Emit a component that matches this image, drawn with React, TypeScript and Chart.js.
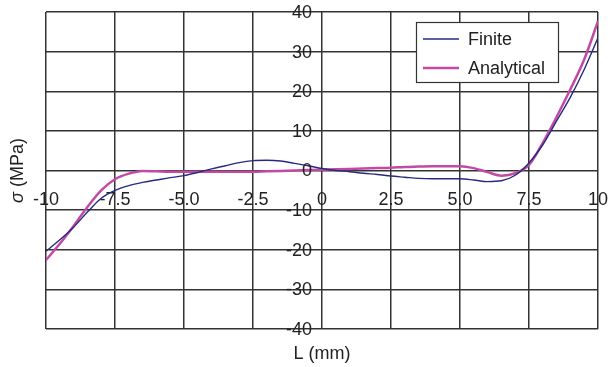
import React, { useEffect, useRef } from "react";
import { Chart, registerables } from "chart.js";

Chart.register(...registerables);

const xValues = [-10, -9.5, -9, -8.5, -8, -7.5, -7, -6.5, -6, -5.5, -5, -4.5, -4, -3.5, -3, -2.5, -2, -1.5, -1, -0.5, 0, 0.5, 1, 1.5, 2, 2.5, 3, 3.5, 4, 4.5, 5, 5.5, 6, 6.5, 7, 7.5, 8, 8.5, 9, 9.5, 10];

const finiteValues = [-20.4, -17.5, -14.3, -10.5, -7.0, -5.0, -3.8, -3.0, -2.4, -1.8, -1.3, -0.5, 0.4, 1.2, 2.0, 2.5, 2.6, 2.4, 1.8, 1.2, 0.5, 0.0, -0.3, -0.7, -1.0, -1.4, -1.7, -2.0, -2.1, -2.1, -2.1, -2.4, -2.8, -2.6, -1.2, 1.9, 6.5, 12.5, 18.5, 25.5, 33.5];

const analyticalValues = [-22.6, -18.5, -14.0, -9.2, -5.0, -2.2, -0.8, -0.1, -0.2, -0.3, -0.3, -0.3, -0.3, -0.3, -0.3, -0.3, -0.2, -0.1, 0.0, 0.1, 0.2, 0.3, 0.4, 0.5, 0.6, 0.7, 0.9, 1.0, 1.1, 1.1, 1.1, 0.6, -0.4, -1.3, -0.7, 1.4, 7.0, 13.5, 20.5, 28.0, 37.7];

const xTickValues = [-10, -7.5, -5, -2.5, 0, 2.5, 5, 7.5, 10];
const xTickLabels = ["-10", "-7.5", "-5.0", "-2.5", "0", "2.5", "5.0", "7.5", "10"];
const yTickValues = [-40, -30, -20, -10, 0, 10, 20, 30, 40];
const yTickLabels = ["-40", "-30", "-20", "-10", "0", "10", "20", "30", "40"];

const seriesNames = ["Finite", "Analytical"];
const xTitle = "L (mm)";
const yTitleSymbol = "σ";
const yTitleRest = " (MPa)";

const FONT = "'Liberation Sans', Arial, sans-serif";

const overlayPlugin = {
  id: "overlay",
  afterDraw(chart: any) {
    const ctx = chart.ctx;
    const area = chart.chartArea;
    const xs = chart.scales.x;
    const ys = chart.scales.y;

    // y tick labels, right-aligned left of the x = 0 line
    ctx.save();
    ctx.fillStyle = "#222";
    ctx.font = `18px ${FONT}`;
    ctx.textAlign = "right";
    ctx.textBaseline = "middle";
    const axisX = xs.getPixelForValue(0);
    yTickValues.forEach((v, i) => {
      ctx.fillText(yTickLabels[i], axisX - 10, ys.getPixelForValue(v) + 1);
    });
    ctx.restore();

    // axis titles
    ctx.save();
    ctx.fillStyle = "#222";
    ctx.font = `18px ${FONT}`;
    ctx.textAlign = "center";
    ctx.textBaseline = "middle";
    ctx.fillText(xTitle, (area.left + area.right) / 2, 354);

    ctx.translate(18, (area.top + area.bottom) / 2);
    ctx.rotate(-Math.PI / 2);
    ctx.font = `italic 18px ${FONT}`;
    const w1 = ctx.measureText(yTitleSymbol).width;
    ctx.font = `18px ${FONT}`;
    const w2 = ctx.measureText(yTitleRest).width;
    const start = -(w1 + w2) / 2;
    ctx.textAlign = "left";
    ctx.font = `italic 18px ${FONT}`;
    ctx.fillText(yTitleSymbol, start, 0);
    ctx.font = `18px ${FONT}`;
    ctx.fillText(yTitleRest, start + w1, 0);
    ctx.restore();

    // legend
    ctx.save();
    const bx = 416, by = 22, bw = 142, bh = 60;
    ctx.fillStyle = "#ffffff";
    ctx.fillRect(bx, by, bw, bh);
    ctx.strokeStyle = "#333";
    ctx.lineWidth = 1.2;
    ctx.strokeRect(bx + 0.5, by + 0.5, bw, bh);
    chart.data.datasets.forEach((ds: any, i: number) => {
      const yy = 39 + i * 29;
      ctx.strokeStyle = ds.borderColor;
      ctx.lineWidth = ds.borderWidth;
      ctx.beginPath();
      ctx.moveTo(423, yy);
      ctx.lineTo(459, yy);
      ctx.stroke();
      ctx.fillStyle = "#222";
      ctx.font = `18px ${FONT}`;
      ctx.textAlign = "left";
      ctx.textBaseline = "middle";
      ctx.fillText(ds.label, 468, yy + 1);
    });
    ctx.restore();
  },
};

export default function App() {
  const canvasRef = useRef<HTMLCanvasElement | null>(null);

  useEffect(() => {
    document.body.style.margin = "0";
    const canvas = canvasRef.current;
    if (!canvas) return;
    const chart = new Chart(canvas, {
      type: "line",
      data: {
        datasets: [
          {
            label: seriesNames[0],
            data: xValues.map((x, i) => ({ x, y: finiteValues[i] })),
            borderColor: "#262a80",
            borderWidth: 1.4,
            pointRadius: 0,
            cubicInterpolationMode: "monotone",
            fill: false,
          },
          {
            label: seriesNames[1],
            data: xValues.map((x, i) => ({ x, y: analyticalValues[i] })),
            borderColor: "#c24aa4",
            borderWidth: 2.5,
            pointRadius: 0,
            cubicInterpolationMode: "monotone",
            fill: false,
          },
        ],
      },
      options: {
        responsive: false,
        animation: false,
        devicePixelRatio: 1,
        layout: { padding: { left: 46, right: 9, top: 12, bottom: 38 } },
        plugins: {
          legend: { display: false },
          tooltip: { enabled: false },
        },
        scales: {
          x: {
            type: "linear",
            position: { y: 0 } as any,
            min: -10,
            max: 10,
            border: { display: false },
            grid: { color: "#333", lineWidth: 1.5, drawTicks: true, tickLength: 19, tickColor: "rgba(0,0,0,0)" },
            afterBuildTicks: (scale: any) => {
              scale.ticks = xTickValues.map((v) => ({ value: v }));
            },
            ticks: {
              autoSkip: false,
              maxRotation: 0,
              padding: 0,
              color: "#222",
              font: { family: FONT, size: 18 },
              callback: (v: any) => {
                const idx = xTickValues.indexOf(Number(v));
                return idx >= 0 ? xTickLabels[idx] : "";
              },
            },
          },
          y: {
            type: "linear",
            position: { x: 0 } as any,
            min: -40,
            max: 40,
            border: { display: false },
            grid: { color: "#333", lineWidth: 1.5, drawTicks: false },
            afterBuildTicks: (scale: any) => {
              scale.ticks = yTickValues.map((v) => ({ value: v }));
            },
            ticks: {
              display: false,
              autoSkip: false,
              padding: 0,
              font: { family: FONT, size: 18 },
            },
          },
        },
      },
      plugins: [overlayPlugin],
    });
    return () => chart.destroy();
  }, []);

  return (
    <div style={{ position: "absolute", left: 0, top: 0, width: 608, height: 367, background: "#fff" }}>
      <canvas ref={canvasRef} width={608} height={367} />
    </div>
  );
}
